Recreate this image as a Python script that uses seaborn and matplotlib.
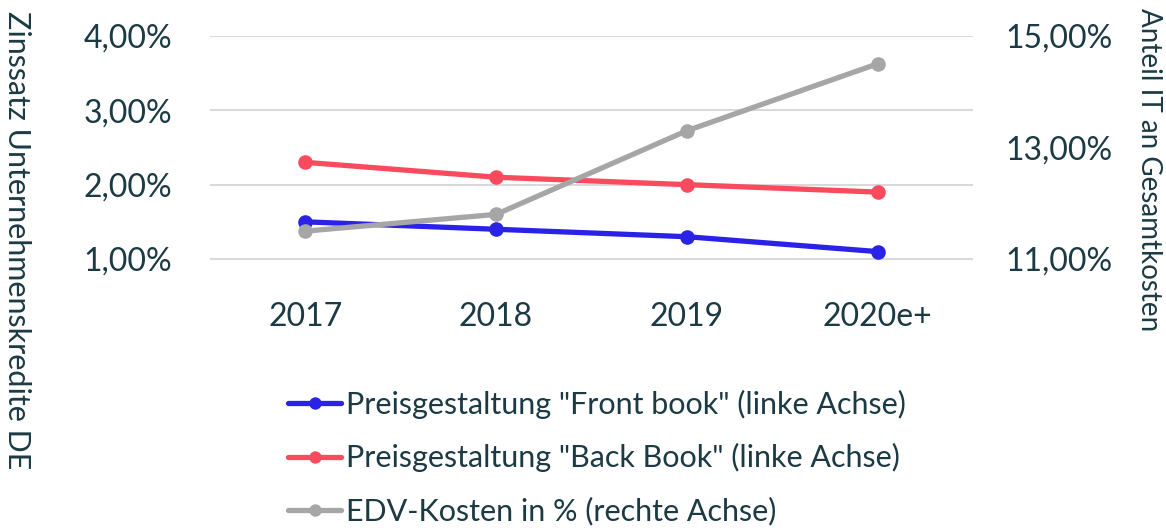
import pandas as pd
import matplotlib.pyplot as plt
import seaborn as sns

# values
years = ['2017', '2018', '2019', '2020e+']
front_book = [1.5, 1.4, 1.3, 1.1]     # linke Achse, %
back_book = [2.3, 2.1, 2.0, 1.9]      # linke Achse, %
edv_kosten = [11.5, 11.8, 13.3, 14.5]  # rechte Achse, %

left_ticks = [1, 2, 3, 4]
right_ticks = [11, 13, 15]

txt = '#1c3a44'
blue = '#2b22e8'
red = '#fa4a5e'
grey = '#a6a6a6'

sns.set_style('white')
plt.rcParams['font.family'] = ['Lato', 'DejaVu Sans']
plt.rcParams['font.weight'] = 'normal'
plt.rcParams['text.color'] = txt

data = pd.DataFrame({'Jahr': years, 'front': front_book, 'back': back_book, 'edv': edv_kosten})

fig = plt.figure(figsize=(11.66, 5.28), dpi=100)
ax = fig.add_axes([0.180, 0.439, 0.6545, 0.493])
ax2 = ax.twinx()

lw = 3.8
ms = 10.5
sns.lineplot(data=data, x='Jahr', y='front', ax=ax, color=blue, lw=lw, marker='o',
             markersize=ms, markeredgewidth=0, label='Preisgestaltung "Front book" (linke Achse)', legend=False)
sns.lineplot(data=data, x='Jahr', y='back', ax=ax, color=red, lw=lw, marker='o',
             markersize=ms, markeredgewidth=0, label='Preisgestaltung "Back Book" (linke Achse)', legend=False)
sns.lineplot(data=data, x='Jahr', y='edv', ax=ax2, color=grey, lw=lw, marker='o',
             markersize=ms, markeredgewidth=0, label='EDV-Kosten in % (rechte Achse)', legend=False)

ax.set_xlim(-0.5, 3.5)
ax.set_ylim(0.5, 4.0)
ax2.set_ylim(11 - 0.5 * 4 / 3, 15)

ax.set_yticks(left_ticks)
ax.set_yticklabels([f'{v:.2f}%'.replace('.', ',') for v in left_ticks])
ax2.set_yticks(right_ticks)
ax2.set_yticklabels([f'{v:.2f}%'.replace('.', ',') for v in right_ticks])

ax.grid(axis='y', color='#d9d9d9', lw=1.5)
ax.set_axisbelow(True)
for a in (ax, ax2):
    for s in a.spines.values():
        s.set_visible(False)
    a.tick_params(length=0, labelsize=23, colors=txt)
    a.set_xlabel('')
    a.set_ylabel('')
ax.tick_params(axis='y', pad=27)
ax2.tick_params(axis='y', pad=23)
ax.tick_params(axis='x', pad=4)

fig.text(0.015, 0.545, 'Zinssatz Unternehmenskredite DE', rotation=270, ha='center', va='center',
         fontsize=22, color=txt)
fig.text(0.985, 0.678, 'Anteil IT an Gesamtkosten', rotation=270, ha='center', va='center',
         fontsize=20, color=txt)

handles = ax.get_lines()[:2] + ax2.get_lines()[:1]
labels = [h.get_label() for h in handles]
fig.legend(handles, labels, loc='upper left', bbox_to_anchor=(0.247, 0.262), frameon=False,
           fontsize=22, handlelength=1.75, handletextpad=0.15, labelspacing=0.8,
           borderaxespad=0, borderpad=0, markerscale=0.85)

fig.savefig('out.png', dpi=100)
